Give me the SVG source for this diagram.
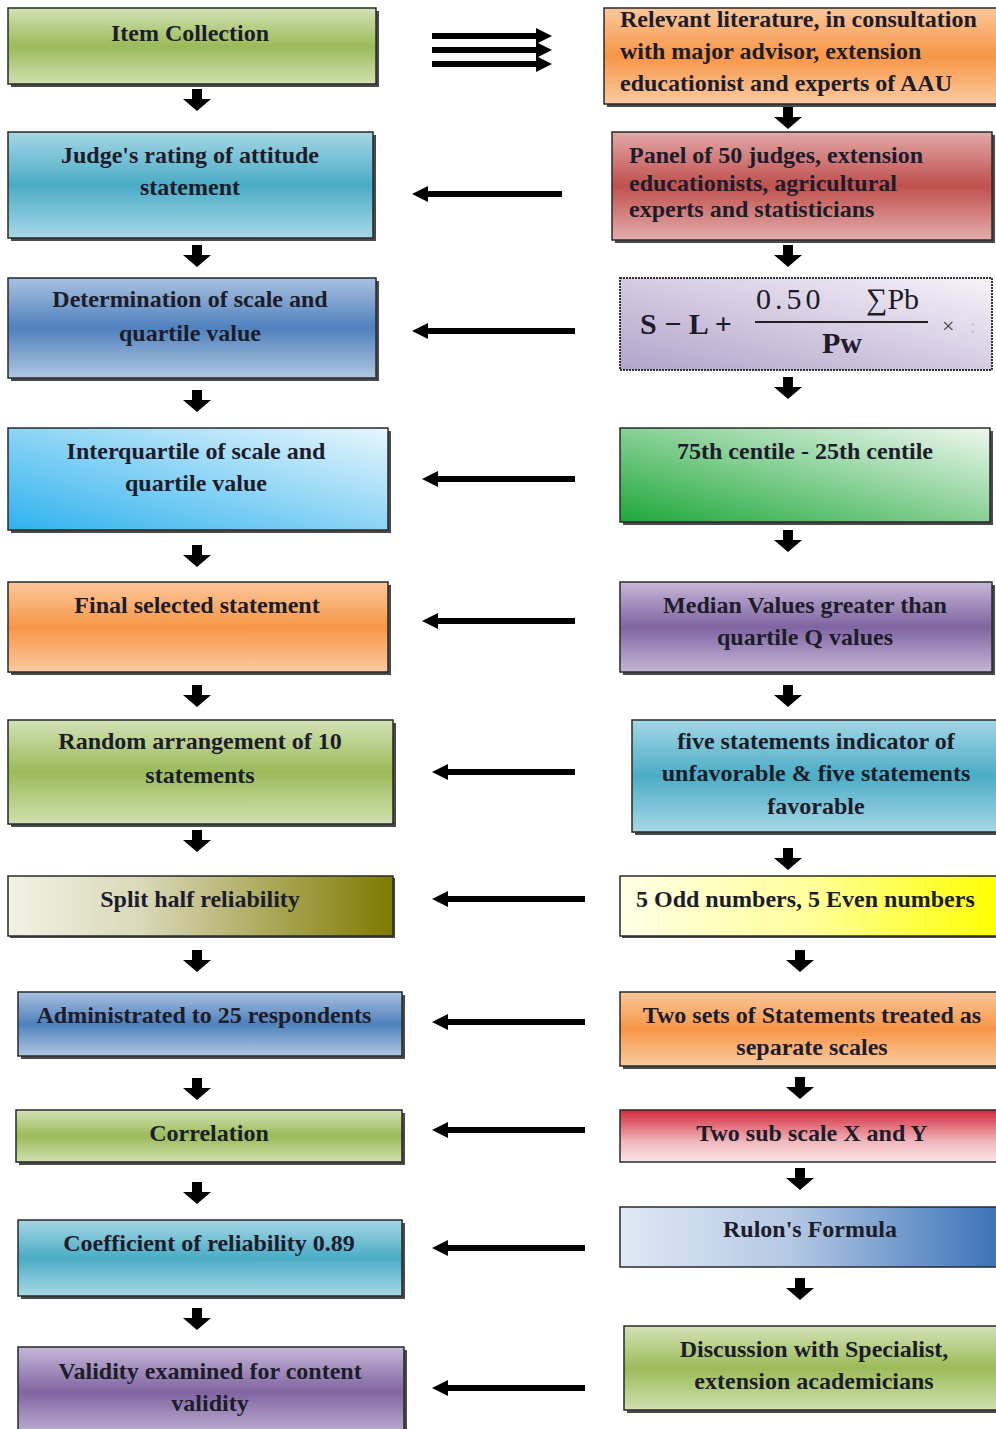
<svg xmlns="http://www.w3.org/2000/svg" xmlns:xlink="http://www.w3.org/1999/xlink" width="996" height="1429" viewBox="0 0 996 1429">
<defs>
<style>
.t{font-family:"Liberation Serif","Times New Roman",serif;font-weight:bold;font-size:24px;fill:#1c1c2a;}
.c{text-anchor:middle;}
.f{font-size:30px;}
.sh{fill:#2a2a2a;opacity:0.85;}
.bx{stroke:#2a2a2a;stroke-width:1.5;}
.ha{stroke:#000;stroke-width:6;fill:none;marker-end:url(#ah);}
.da{fill:#000;}
</style>
<marker id="ah" markerUnits="userSpaceOnUse" markerWidth="16" markerHeight="16" refX="10" refY="8" orient="auto">
<path d="M0,0 L16,8 L0,16 z" fill="#000"/>
</marker>
<path id="dn" d="M-5,0 h10 v10 h9 l-14,12 l-14,-12 h9 z"/>
<linearGradient id="gGreen" x1="0" y1="0" x2="0" y2="1"><stop offset="0" stop-color="#d3e2b6"/><stop offset="0.5" stop-color="#9bbb59"/><stop offset="1" stop-color="#d0e0b0"/></linearGradient>
<linearGradient id="gTeal" x1="0" y1="0" x2="0" y2="1"><stop offset="0" stop-color="#a5d7e5"/><stop offset="0.5" stop-color="#4bacc6"/><stop offset="1" stop-color="#a8d8e6"/></linearGradient>
<linearGradient id="gBlue" x1="0" y1="0" x2="0" y2="1"><stop offset="0" stop-color="#a9c1e0"/><stop offset="0.5" stop-color="#4f81bd"/><stop offset="1" stop-color="#b0c7e3"/></linearGradient>
<linearGradient id="gOrange" x1="0" y1="0" x2="0" y2="1"><stop offset="0" stop-color="#fbc79b"/><stop offset="0.5" stop-color="#f79646"/><stop offset="1" stop-color="#fbcaa0"/></linearGradient>
<linearGradient id="gRed" x1="0" y1="0" x2="0" y2="1"><stop offset="0" stop-color="#e2a9a8"/><stop offset="0.5" stop-color="#c0504d"/><stop offset="1" stop-color="#e4aeac"/></linearGradient>
<linearGradient id="gPurple" x1="0" y1="0" x2="0" y2="1"><stop offset="0" stop-color="#c6b8d8"/><stop offset="0.5" stop-color="#8064a2"/><stop offset="1" stop-color="#c4b6d6"/></linearGradient>
<linearGradient id="gSky" x1="0" y1="1" x2="1" y2="0"><stop offset="0" stop-color="#2fb2ee"/><stop offset="1" stop-color="#e8f6fd"/></linearGradient>
<linearGradient id="gLime" x1="0" y1="1" x2="1" y2="0"><stop offset="0" stop-color="#1ea83a"/><stop offset="1" stop-color="#eef8ef"/></linearGradient>
<linearGradient id="gLav" x1="0" y1="1" x2="1" y2="0"><stop offset="0" stop-color="#b3a3cb"/><stop offset="1" stop-color="#f6f3f9"/></linearGradient>
<linearGradient id="gOlive" x1="0" y1="0" x2="1" y2="0"><stop offset="0" stop-color="#f2f2e4"/><stop offset="0.35" stop-color="#d9d8b8"/><stop offset="1" stop-color="#7f7a00"/></linearGradient>
<linearGradient id="gYellow" x1="0" y1="0" x2="1" y2="0"><stop offset="0" stop-color="#ffffe6"/><stop offset="0.5" stop-color="#ffff9a"/><stop offset="1" stop-color="#ffff00"/></linearGradient>
<linearGradient id="gRedV" x1="0" y1="0" x2="0" y2="1"><stop offset="0" stop-color="#d3283a"/><stop offset="0.6" stop-color="#f0b6bc"/><stop offset="1" stop-color="#fbe4e6"/></linearGradient>
<linearGradient id="gRulon" x1="0" y1="0" x2="1" y2="0"><stop offset="0" stop-color="#dfe8f4"/><stop offset="0.45" stop-color="#b4c8e4"/><stop offset="1" stop-color="#3a72b9"/></linearGradient>
</defs>
<rect width="996" height="1429" fill="#fff"/>

<!-- Left column -->
<g id="n-item">
<rect class="sh" x="11" y="11" width="368" height="76"/>
<rect class="bx" x="8" y="8" width="368" height="76" fill="url(#gGreen)"/>
<text class="t c" x="190" y="41">Item Collection</text>
</g>
<g id="n-judge">
<rect class="sh" x="11" y="135" width="365" height="106"/>
<rect class="bx" x="8" y="132" width="365" height="106" fill="url(#gTeal)"/>
<text class="t c" x="190" y="163">Judge's rating of attitude</text>
<text class="t c" x="190" y="195">statement</text>
</g>
<g id="n-determ">
<rect class="sh" x="11" y="281" width="368" height="100"/>
<rect class="bx" x="8" y="278" width="368" height="100" fill="url(#gBlue)"/>
<text class="t c" x="190" y="307">Determination of scale and</text>
<text class="t c" x="190" y="341">quartile value</text>
</g>
<g id="n-interq">
<rect class="sh" x="11" y="431" width="380" height="102"/>
<rect class="bx" x="8" y="428" width="380" height="102" fill="url(#gSky)"/>
<text class="t c" x="196" y="459">Interquartile of scale and</text>
<text class="t c" x="196" y="491">quartile value</text>
</g>
<g id="n-final">
<rect class="sh" x="11" y="585" width="380" height="90"/>
<rect class="bx" x="8" y="582" width="380" height="90" fill="url(#gOrange)"/>
<text class="t c" x="197" y="613">Final selected statement</text>
</g>
<g id="n-random">
<rect class="sh" x="11" y="723" width="385" height="104"/>
<rect class="bx" x="8" y="720" width="385" height="104" fill="url(#gGreen)"/>
<text class="t c" x="200" y="749">Random arrangement of 10</text>
<text class="t c" x="200" y="783">statements</text>
</g>
<g id="n-split">
<rect class="sh" x="10" y="878" width="385" height="60"/>
<rect class="bx" x="8" y="876" width="385" height="60" fill="url(#gOlive)"/>
<text class="t c" x="200" y="907">Split half reliability</text>
</g>
<g id="n-admin">
<rect class="sh" x="21" y="995" width="384" height="64"/>
<rect class="bx" x="18" y="992" width="384" height="64" fill="url(#gBlue)"/>
<text class="t c" x="204" y="1023">Administrated to 25 respondents</text>
</g>
<g id="n-corr">
<rect class="sh" x="19" y="1113" width="386" height="52"/>
<rect class="bx" x="16" y="1110" width="386" height="52" fill="url(#gGreen)"/>
<text class="t c" x="209" y="1141">Correlation</text>
</g>
<g id="n-coef">
<rect class="sh" x="21" y="1223" width="384" height="76"/>
<rect class="bx" x="18" y="1220" width="384" height="76" fill="url(#gTeal)"/>
<text class="t c" x="209" y="1251">Coefficient of reliability 0.89</text>
</g>
<g id="n-valid">
<rect class="sh" x="21" y="1350" width="386" height="90"/>
<rect class="bx" x="18" y="1347" width="386" height="90" fill="url(#gPurple)"/>
<text class="t c" x="210" y="1379">Validity examined for content</text>
<text class="t c" x="210" y="1411">validity</text>
</g>

<!-- Right column -->
<g id="n-relevant">
<rect class="sh" x="607" y="11" width="392" height="96"/>
<rect class="bx" x="604" y="8" width="400" height="96" fill="url(#gOrange)"/>
<text class="t" x="620" y="27">Relevant literature, in consultation</text>
<text class="t" x="620" y="59">with major advisor, extension</text>
<text class="t" x="620" y="91">educationist and experts of AAU</text>
</g>
<g id="n-panel">
<rect class="sh" x="615" y="135" width="380" height="108"/>
<rect class="bx" x="612" y="132" width="380" height="108" fill="url(#gRed)"/>
<text class="t" x="629" y="163">Panel of 50 judges, extension</text>
<text class="t" x="629" y="191">educationists, agricultural</text>
<text class="t" x="629" y="217">experts and  statisticians</text>
</g>
<g id="n-formula">
<rect x="620" y="278" width="372" height="92" fill="url(#gLav)" stroke="#333" stroke-width="2" stroke-dasharray="2,1"/>
<text class="t f" x="640" y="334">S − L +</text>
<text class="t f" x="756" y="309" style="font-weight:normal;letter-spacing:4px">0.50</text>
<text class="t f" x="866" y="309" style="font-weight:normal">∑Pb</text>
<line x1="755" y1="322" x2="928" y2="322" stroke="#222" stroke-width="2"/>
<text class="t c f" x="842" y="353">Pw</text>
<text class="t" x="942" y="333" style="font-size:22px;font-weight:normal;fill:#444">×</text>
<text class="t" x="970" y="333" style="font-size:20px;font-weight:normal;fill:#bbb">:</text>
</g>
<g id="n-centile">
<rect class="sh" x="623" y="431" width="370" height="94"/>
<rect class="bx" x="620" y="428" width="370" height="94" fill="url(#gLime)"/>
<text class="t c" x="805" y="459">75th centile - 25th centile</text>
</g>
<g id="n-median">
<rect class="sh" x="623" y="585" width="372" height="90"/>
<rect class="bx" x="620" y="582" width="372" height="90" fill="url(#gPurple)"/>
<text class="t c" x="805" y="613">Median Values greater than</text>
<text class="t c" x="805" y="645">quartile Q values</text>
</g>
<g id="n-five">
<rect class="sh" x="635" y="723" width="364" height="112"/>
<rect class="bx" x="632" y="720" width="370" height="112" fill="url(#gTeal)"/>
<text class="t c" x="816" y="749">five statements indicator of</text>
<text class="t c" x="816" y="781">unfavorable &amp; five statements</text>
<text class="t c" x="816" y="814">favorable</text>
</g>
<g id="n-odd">
<rect class="sh" x="622" y="878" width="376" height="60"/>
<rect class="bx" x="620" y="876" width="380" height="60" fill="url(#gYellow)"/>
<text class="t" x="636" y="907">5 Odd numbers, 5 Even numbers</text>
</g>
<g id="n-twosets">
<rect class="sh" x="623" y="995" width="376" height="74"/>
<rect class="bx" x="620" y="992" width="380" height="74" fill="url(#gOrange)"/>
<text class="t c" x="812" y="1023">Two sets of Statements treated as</text>
<text class="t c" x="812" y="1055">separate scales</text>
</g>
<g id="n-twosub">
<rect class="bx" x="620" y="1110" width="380" height="52" fill="url(#gRedV)"/>
<text class="t c" x="812" y="1141">Two sub scale X and Y</text>
</g>
<g id="n-rulon">
<rect class="bx" x="620" y="1207" width="380" height="60" fill="url(#gRulon)"/>
<text class="t c" x="810" y="1237">Rulon's Formula</text>
</g>
<g id="n-discuss">
<rect class="sh" x="627" y="1329" width="372" height="84"/>
<rect class="bx" x="624" y="1326" width="380" height="84" fill="url(#gGreen)"/>
<text class="t c" x="814" y="1357">Discussion with Specialist,</text>
<text class="t c" x="814" y="1389">extension academicians</text>
</g>

<!-- Connectors -->
<g id="connectors">
<line class="ha" x1="432" y1="36" x2="546" y2="36"/>
<line class="ha" x1="432" y1="50" x2="546" y2="50"/>
<line class="ha" x1="432" y1="64" x2="546" y2="64"/>
<line class="ha" x1="562" y1="194" x2="418" y2="194"/>
<line class="ha" x1="575" y1="331" x2="418" y2="331"/>
<line class="ha" x1="575" y1="479" x2="428" y2="479"/>
<line class="ha" x1="575" y1="621" x2="428" y2="621"/>
<line class="ha" x1="575" y1="772" x2="438" y2="772"/>
<line class="ha" x1="585" y1="899" x2="438" y2="899"/>
<line class="ha" x1="585" y1="1022" x2="438" y2="1022"/>
<line class="ha" x1="585" y1="1130" x2="438" y2="1130"/>
<line class="ha" x1="585" y1="1248" x2="438" y2="1248"/>
<line class="ha" x1="585" y1="1388" x2="438" y2="1388"/>
<use href="#dn" class="da" x="197" y="89"/>
<use href="#dn" class="da" x="197" y="245"/>
<use href="#dn" class="da" x="197" y="390"/>
<use href="#dn" class="da" x="197" y="545"/>
<use href="#dn" class="da" x="197" y="685"/>
<use href="#dn" class="da" x="197" y="830"/>
<use href="#dn" class="da" x="197" y="950"/>
<use href="#dn" class="da" x="197" y="1078"/>
<use href="#dn" class="da" x="197" y="1182"/>
<use href="#dn" class="da" x="197" y="1308"/>
<use href="#dn" class="da" x="788" y="107"/>
<use href="#dn" class="da" x="788" y="245"/>
<use href="#dn" class="da" x="788" y="377"/>
<use href="#dn" class="da" x="788" y="530"/>
<use href="#dn" class="da" x="788" y="685"/>
<use href="#dn" class="da" x="788" y="848"/>
<use href="#dn" class="da" x="800" y="950"/>
<use href="#dn" class="da" x="800" y="1077"/>
<use href="#dn" class="da" x="800" y="1168"/>
<use href="#dn" class="da" x="800" y="1278"/>
</g>
</svg>
